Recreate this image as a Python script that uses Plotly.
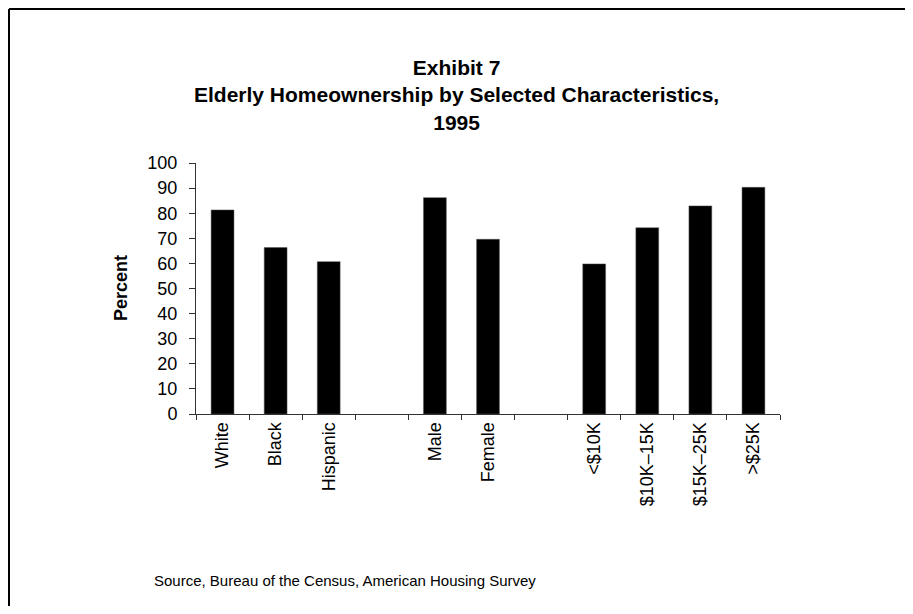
import plotly.graph_objects as go

# ---- data ----
categories = ["White", "Black", "Hispanic", " ", "Male", "Female", "  ",
              "<$10K", "$10K–15K", "$15K–25K", ">$25K"]
percent = [81.3, 66.3, 60.7, None, 86.2, 69.6, None, 59.8, 74.2, 82.9, 90.3]
y_ticks = [0, 10, 20, 30, 40, 50, 60, 70, 80, 90, 100]
title_lines = ["Exhibit 7", "Elderly Homeownership by Selected Characteristics,", "1995"]
y_title = "Percent"
source_text = "Source, Bureau of the Census, American Housing Survey"

# ---- layout geometry (page pixels; the page body has an 8px margin) ----
OFF = 8
PAGE_W, PAGE_H = 913, 614
W, H = PAGE_W - 2 * OFF, PAGE_H - 2 * OFF
plot_left, plot_right, plot_top, plot_bottom = 196, 780, 163, 414
L = plot_left - OFF
T = plot_top - OFF
pw = plot_right - plot_left
ph = plot_bottom - plot_top
R = W - L - pw
B = H - T - ph


def px_x(x):
    return (x - plot_left) / pw


def px_y(y):
    return (plot_bottom - y) / ph


FONT = "Liberation Sans, Arial, sans-serif"

fig = go.Figure(
    go.Bar(
        x=categories,
        y=percent,
        marker=dict(color="black", line=dict(color="#555", width=0.5)),
        width=0.43,
        hoverinfo="x+y",
    )
)

annotations = [
    dict(
        text="<br>".join("<b>%s</b>" % t for t in title_lines),
        x=px_x(456.5), y=px_y(95), xref="paper", yref="paper",
        xanchor="center", yanchor="middle", showarrow=False, align="center",
        font=dict(family=FONT, size=21, color="black"),
    ),
    dict(
        text="<b>%s</b>" % y_title, x=px_x(121), y=px_y(288), xref="paper", yref="paper",
        xanchor="center", yanchor="middle", textangle=-90, showarrow=False,
        font=dict(family=FONT, size=18, color="black"),
    ),
    dict(
        text=source_text, x=px_x(152), y=px_y(580), xref="paper", yref="paper",
        xanchor="left", yanchor="middle", showarrow=False,
        font=dict(family=FONT, size=15, color="black"),
    ),
]

shapes = [
    dict(type="line", xref="paper", yref="paper", x0=px_x(9), y0=px_y(9), x1=px_x(PAGE_W + 20), y1=px_y(9),
         line=dict(color="black", width=2)),
    dict(type="line", xref="paper", yref="paper", x0=px_x(9), y0=px_y(9), x1=px_x(9), y1=px_y(PAGE_H + 20),
         line=dict(color="black", width=2)),
]

fig.update_layout(
    width=W, height=H,
    margin=dict(l=L, r=R, t=T, b=B, pad=0),
    paper_bgcolor="white", plot_bgcolor="white",
    showlegend=False,
    font=dict(family=FONT, color="black"),
    annotations=annotations,
    shapes=shapes,
    xaxis=dict(
        type="category", categoryorder="array", categoryarray=categories,
        tickson="boundaries", ticks="outside", ticklen=5, tickcolor="#333", tickwidth=1,
        showline=True, linecolor="#333", linewidth=1,
        tickangle=-90, tickfont=dict(family=FONT, size=18, color="black"),
        showgrid=False, zeroline=False, range=[-0.5, len(categories) - 0.5],
    ),
    yaxis=dict(
        range=[0, 100], tickvals=y_ticks, ticks="outside", ticklen=6, tickcolor="#333", tickwidth=1,
        showline=True, linecolor="#333", linewidth=1, ticklabelstandoff=8,
        tickfont=dict(family=FONT, size=18, color="black"),
        showgrid=False, zeroline=False,
    ),
)

fig.write_html("out.html")
